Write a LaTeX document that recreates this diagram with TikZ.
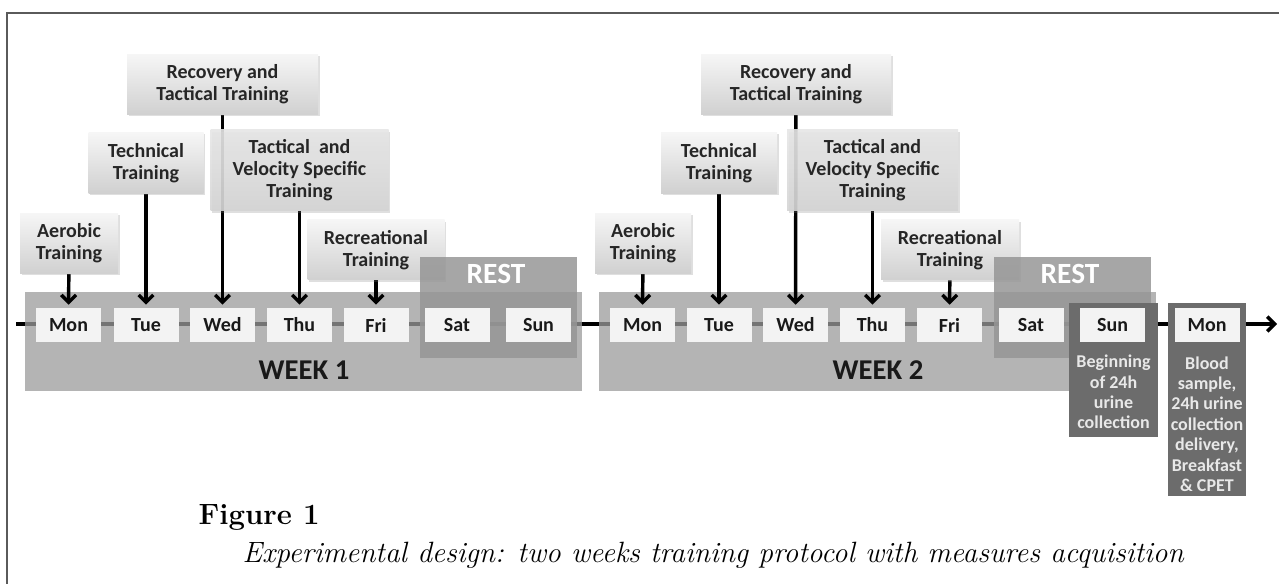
\documentclass[tikz,border=0pt]{standalone}
\usepackage{fontspec}
\newfontfamily\carlito{Carlito}
\usetikzlibrary{arrows.meta,shadows}

\definecolor{bandgray}{RGB}{155,155,155}
\definecolor{restgray}{RGB}{150,150,150}
\definecolor{darkbox}{RGB}{108,108,108}
\definecolor{dayfill}{RGB}{243,243,243}
\definecolor{notetext}{RGB}{232,232,232}
\definecolor{boxtop}{RGB}{246,246,246}
\definecolor{boxbot}{RGB}{208,208,208}
\definecolor{tactop}{RGB}{230,230,230}
\definecolor{tacbot}{RGB}{212,212,212}
\definecolor{framegray}{RGB}{90,90,90}

\pgfdeclarelayer{back}
\pgfdeclarelayer{mid}
\pgfsetlayers{back,mid,main}

\begin{document}
\begin{tikzpicture}[x=0.75pt,y=-0.75pt,
	day/.style={fill=dayfill,minimum width=48.75pt,minimum height=25.5pt,inner sep=0pt,text=black!90,font=\carlito\bfseries\fontsize{15}{18}\selectfont},
	task/.style={top color=boxtop,bottom color=boxbot,drop shadow={opacity=0.25,shadow xshift=1.2pt,shadow yshift=-1.2pt},minimum height=45.5pt,inner sep=0pt,align=center,text=black!85,font=\carlito\bfseries\fontsize{15}{16.5}\selectfont},
	tactic/.style={top color=tactop,bottom color=tacbot,fill opacity=0.9,text opacity=1,minimum height=60.75pt},
	band/.style={fill=bandgray,fill opacity=0.75,minimum width=417.75pt,minimum height=74.25pt,inner sep=0pt},
	restbox/.style={fill=restgray,fill opacity=0.85,minimum width=117.75pt,minimum height=75.75pt,inner sep=0pt},
	sample/.style={fill=darkbox,inner sep=0pt},
	note/.style={text=notetext,align=center,inner sep=0pt,font=\carlito\bfseries\fontsize{13.5}{15.3}\selectfont},
	arr/.style={line width=2.6pt,-{Straight Barb[length=5.5pt,width=11pt]}}]
	\useasboundingbox (0,0) rectangle (1279,584);
	\draw[framegray,line width=1.5pt] (7,584) -- (7,13) -- (1279,13);

	\coordinate (t0) at (16,324);
	\coordinate (t1) at (1277,324);

	% training sessions
	\node[task,minimum width=143.25pt] (rec1) at (222.5,84.5) {Recovery and\\Tactical Training};
	\node[task,minimum width=86.25pt] (tec1) at (146,163) {Technical\\Training};
	\node[task,minimum width=73.5pt] (aer1) at (69,243.5) {Aerobic\\Training};
	\node[task,minimum width=102.75pt,minimum height=45pt] (fun1) at (376,250) {Recreational\\Training};
	\node[task,tactic,minimum width=133.5pt] (tac1) at (299.5,170.5) {Tactical\ \ and\\Velocity Specific\\Training};

	\node[task,minimum width=142.5pt] (rec2) at (796,84.5) {Recovery and\\Tactical Training};
	\node[task,minimum width=87pt] (tec2) at (719,163) {Technical\\Training};
	\node[task,minimum width=72pt] (aer2) at (643,243.5) {Aerobic\\Training};
	\node[task,minimum width=103.5pt,minimum height=45pt] (fun2) at (950,250) {Recreational\\Training};
	\node[task,tactic,minimum width=128.25pt] (tac2) at (872.5,170.5) {Tactical and\\Velocity Specific\\Training};

	% rest
	\node[restbox] (restbox1) at (498.5,307.5) {};
	\node[restbox] (restbox2) at (1072.5,307.5) {};
	\node[text=white,font=\carlito\bfseries\fontsize{22}{24}\selectfont] (rest1) at (496,274) {REST};
	\node[text=white,font=\carlito\bfseries\fontsize{22}{24}\selectfont] (rest2) at (1070,274) {REST};

	% measures
	\node[sample,minimum width=66.75pt,minimum height=100.5pt] (sunbox) at (1113.5,370) {};
	\node[sample,minimum width=58.5pt,minimum height=144.75pt] (monbox) at (1207,399.5) {};

	% days
	\node[day] (mon1) at (68.5,325) {Mon};
	\node[day] (tue1) at (146,325) {Tue};
	\node[day] (wed1) at (222.5,325) {Wed};
	\node[day] (thu1) at (299.5,325) {Thu};
	\node[day] (fri1) at (376,325) {Fri};
	\node[day] (sat1) at (457,325) {Sat};
	\node[day] (sun1) at (538.5,325) {Sun};
	\node[day] (mon2) at (642.5,325) {Mon};
	\node[day] (tue2) at (719,325) {Tue};
	\node[day] (wed2) at (795.5,325) {Wed};
	\node[day] (thu2) at (872.5,325) {Thu};
	\node[day] (fri2) at (949.5,325) {Fri};
	\node[day] (sat2) at (1031,325) {Sat};
	\node[day] (sun2) at (1112.5,325) {Sun};
	\node[day] (mon3) at (1207,325) {Mon};

	\node[note] (sunnote) at (1113.5,392) {Beginning\\of 24h\\urine\\collection};
	\node[note] (monnote) at (1207,424) {Blood\\sample,\\24h urine\\collection\\delivery,\\Breakfast\\\& CPET};

	\node[text=black!90,font=\carlito\bfseries\fontsize{21.5}{23}\selectfont] (wk1) at (304,370) {WEEK 1};
	\node[text=black!90,font=\carlito\bfseries\fontsize{21.5}{23}\selectfont] (wk2) at (878,370) {WEEK 2};

	\begin{pgfonlayer}{back}
		\draw[arr] (t0) -- (t1);
		\node[band] (week1) at (303.5,341.5) {};
		\node[band] (week2) at (877.5,341.5) {};
	\end{pgfonlayer}

	\begin{pgfonlayer}{mid}
		\draw[arr,shorten >=2.25pt] (aer1) -- (mon1);
		\draw[arr,shorten >=2.25pt] (tec1) -- (tue1);
		\draw[arr,shorten >=2.25pt] (rec1) -- (wed1);
		\draw[arr,shorten >=2.25pt] (tac1) -- (thu1);
		\draw[arr,shorten >=2.25pt] (fun1) -- (fri1);
		\draw[arr,shorten >=2.25pt] (aer2) -- (mon2);
		\draw[arr,shorten >=2.25pt] (tec2) -- (tue2);
		\draw[arr,shorten >=2.25pt] (rec2) -- (wed2);
		\draw[arr,shorten >=2.25pt] (tac2) -- (thu2);
		\draw[arr,shorten >=2.25pt] (fun2) -- (fri2);
	\end{pgfonlayer}

	\node[anchor=base west,font=\bfseries\fontsize{22}{24}\selectfont] (figlbl) at (194,525) {Figure 1};
	\node[anchor=base west,font=\itshape\fontsize{22}{24}\selectfont] (figcap) at (238,562) {Experimental design: two weeks training protocol with measures acquisition};
\end{tikzpicture}
\end{document}
